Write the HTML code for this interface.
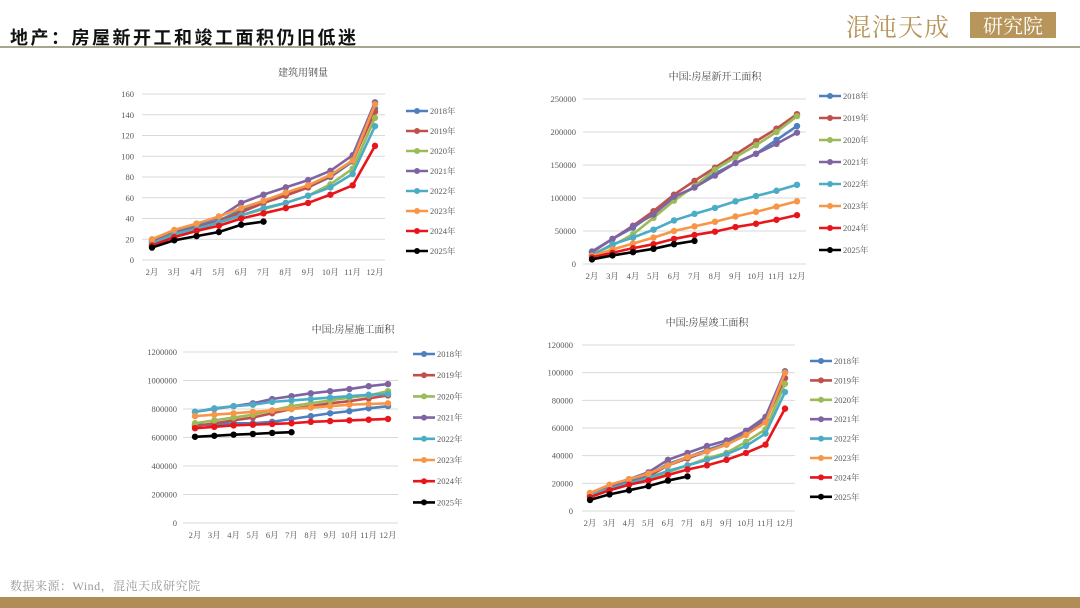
<!DOCTYPE html>
<html><head><meta charset="utf-8">
<style>
body{margin:0;width:1080px;height:608px;background:#fff;overflow:hidden;position:relative;font-family:"Liberation Serif","Noto Serif CJK SC",serif;}
#title{position:absolute;left:10px;top:24px;font-size:18px;font-weight:bold;font-family:"Liberation Sans","Noto Sans CJK SC",sans-serif;color:#111;letter-spacing:2.5px}
#hline{position:absolute;left:0;top:46px;width:1080px;height:2px;background:#a9a690}
#logo{position:absolute;left:846px;top:8px;font-size:25px;color:#b8955a;font-family:"Noto Serif CJK SC",serif;letter-spacing:1px}
#logobox{position:absolute;left:970px;top:12px;width:86px;height:26px;background:#b8955a;color:#fff;font-size:20px;text-align:center;line-height:26px;font-family:"Noto Serif CJK SC",serif}
#src{position:absolute;left:10px;top:577px;font-size:12px;color:#999;letter-spacing:0.5px}
#bar{position:absolute;left:0;top:597px;width:1080px;height:11px;background:#b08d57}
svg{position:absolute;left:0;top:0}
</style></head><body>
<div id="title">地产：房屋新开工和竣工面积仍旧低迷</div>
<div id="hline"></div>
<div id="logo">混沌天成</div>
<div id="logobox">研究院</div>
<div id="src">数据来源：Wind，混沌天成研究院</div>
<div id="bar"></div>
<svg id="svg" width="1080" height="608"></svg>
<script>
const months=["2月","3月","4月","5月","6月","7月","8月","9月","10月","11月","12月"];
const years=["2018年","2019年","2020年","2021年","2022年","2023年","2024年","2025年"];
const colors=["#4e7fbf","#c0504d","#9bbb59","#8064a2","#4bacc6","#f79646","#e8151b","#000000"];
const steelTicks=[0,20,40,60,80,100,120,140,160];
const steelValues=[
[18,27,33,38,48,57,63,70,80,95,146],
[17,25,31,37,46,55,62,70,81,96,143],
[15,24,30,36,43,49,55,62,73,88,137],
[19,28,35,41,55,63,70,77,86,101,152],
[16,25,30,36,43,50,55,62,70,83,129],
[20,29,35,42,50,57,65,72,82,96,150],
[14,22,28,33,40,45,50,55,63,72,110],
[12,19,23,27,34,37]];
const startTicks=[0,50000,100000,150000,200000,250000];
const startValues=[
[18000,38000,55000,77000,100000,116000,137000,153000,167000,188000,209000],
[18000,38000,58000,80000,105000,126000,146000,166000,186000,205000,227000],
[15000,28000,45000,70000,96000,118000,143000,162000,180000,200000,224000],
[19000,38000,57000,75000,102000,116000,134000,153000,167000,182000,199000],
[13000,30000,40000,52000,66000,76000,85000,95000,103000,111000,120000],
[12000,22000,31000,40000,50000,57000,64000,72000,79000,87000,95000],
[10000,17000,24000,30000,38000,44000,49000,56000,61000,67000,74000],
[7000,13000,18000,23000,30000,35000]];
const constrTicks=[0,200000,400000,600000,800000,1000000,1200000];
const constrValues=[
[690000,690000,700000,700000,710000,730000,750000,770000,785000,805000,820000],
[680000,700000,720000,740000,770000,800000,820000,840000,855000,875000,895000],
[700000,720000,740000,760000,790000,820000,840000,860000,880000,895000,925000],
[780000,800000,820000,840000,870000,890000,910000,925000,940000,960000,975000],
[780000,805000,820000,830000,850000,860000,870000,880000,890000,900000,905000],
[750000,760000,770000,780000,790000,800000,810000,820000,830000,835000,840000],
[665000,675000,685000,690000,695000,700000,710000,715000,720000,725000,730000],
[605000,612000,620000,625000,632000,637000]];
const complTicks=[0,20000,40000,60000,80000,100000,120000];
const complValues=[
[12000,17000,22000,26000,34000,39000,44000,49000,56000,66000,101000],
[11000,16000,20000,25000,33000,38000,43000,48000,55000,65000,96000],
[11000,15000,19000,23000,28000,33000,38000,42000,50000,59000,92000],
[13000,18000,23000,28000,37000,42000,47000,51000,58000,68000,101000],
[12000,16000,20000,24000,29000,33000,37000,41000,47000,56000,86000],
[13000,19000,23000,27000,33000,39000,43000,48000,55000,64000,100000],
[10000,15000,19000,22000,26000,30000,33000,37000,42000,48000,74000],
[8000,12000,15000,18000,22000,25000]];

const NS="http://www.w3.org/2000/svg";
const svg=document.getElementById('svg');
function mk(tag,attrs,parent,txt){const e=document.createElementNS(NS,tag);for(const k in attrs)e.setAttribute(k,attrs[k]);if(txt!==undefined)e.textContent=txt;parent.appendChild(e);return e;}

function chart(cfg){
  const g=mk('g',{},svg);
  
  
  const maxT=cfg.ticks[cfg.ticks.length-1];
  const ys=v=>cfg.y0-(v/maxT)*(cfg.y0-cfg.y1);
  const xs=i=>cfg.x0+i*(cfg.x1-cfg.x0)/(months.length-1);
  const t=mk('text',{x:cfg.tx,y:cfg.ty,'font-size':10,'text-anchor':'middle',fill:'#444'},g,cfg.title);
  
  
  cfg.ticks.forEach(v=>{
    const y=ys(v);
    const l=mk('line',{x1:cfg.gl,x2:cfg.gr,y1:y,y2:y,stroke:'#d9d9d9','stroke-width':1},g);
    
    
    const lb=mk('text',{x:cfg.lx,y:y+3,'font-size':8.5,'text-anchor':'end',fill:'#595959'},g,String(v));
    
    
  });
  months.forEach((m,i)=>{
    const lb=mk('text',{x:xs(i),y:cfg.my,'font-size':8.5,'text-anchor':'middle',fill:'#595959'},g,m);
    
    
  });
  cfg.values.forEach((ser,s)=>{
    const pts=ser.map((v,i)=>xs(i)+','+ys(v)).join(' ');
    const pl=mk('polyline',{points:pts,fill:'none',stroke:colors[s],'stroke-width':2.6,'stroke-linejoin':'round'},g);
    
    
    ser.forEach((v,i)=>{
      const c=mk('circle',{cx:xs(i),cy:ys(v),r:3.2,fill:colors[s]},g);
      
      
    });
    const ly=cfg.ly0+s*cfg.lstep;
    const le=mk('g',{},g);
    
    
    mk('line',{x1:cfg.lgx,x2:cfg.lgx+22,y1:ly,y2:ly,stroke:colors[s],'stroke-width':2.6},le);
    mk('circle',{cx:cfg.lgx+11,cy:ly,r:3,fill:colors[s]},le);
    mk('text',{x:cfg.lgx+24,y:ly+3,'font-size':8.5,fill:'#595959'},le,years[s]);
  });
}
chart({name:'steel-chart',title:'建筑用钢量',tx:303,ty:76,ticks:steelTicks,values:steelValues,y0:260,y1:94,x0:152,x1:375,gl:142,gr:385,lx:134,my:275,lgx:406,ly0:111,lstep:20});
chart({name:'new-starts-chart',title:'中国:房屋新开工面积',tx:715,ty:80,ticks:startTicks,values:startValues,y0:264,y1:99,x0:592,x1:797,gl:583,gr:806,lx:576,my:279,lgx:819,ly0:96,lstep:22});
chart({name:'under-construction-chart',title:'中国:房屋施工面积',tx:353,ty:333,ticks:constrTicks,values:constrValues,y0:523,y1:352,x0:195,x1:388,gl:183,gr:398,lx:177,my:538,lgx:413,ly0:354,lstep:21.2});
chart({name:'completions-chart',title:'中国:房屋竣工面积',tx:707,ty:326,ticks:complTicks,values:complValues,y0:511,y1:345,x0:590,x1:785,gl:582,gr:795,lx:573,my:526,lgx:810,ly0:361,lstep:19.4});
</script>
</body></html>
